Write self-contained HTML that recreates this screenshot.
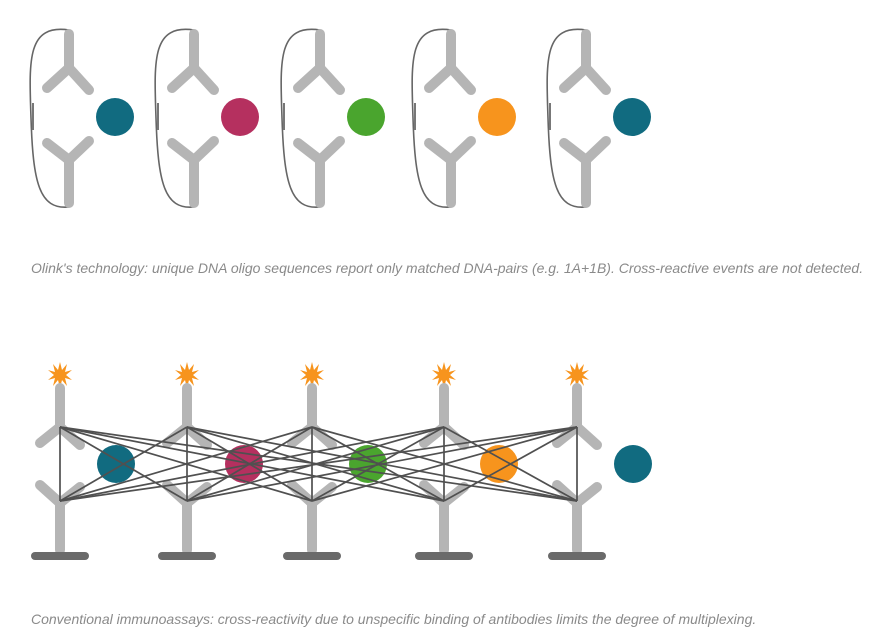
<!DOCTYPE html>
<html><head><meta charset="utf-8"><style>
html,body{margin:0;padding:0;background:#fff;}
.cap{position:absolute;font-family:"Liberation Sans",sans-serif;font-style:italic;font-size:14px;color:#8a8a8a;white-space:nowrap;}
</style></head><body>
<div style="position:relative;width:879px;height:637px;overflow:hidden">
<svg width="879" height="637" style="position:absolute;left:0;top:0">
<defs>
<g id="top">
<path d="M0,30 C-42,24 -40,60 -38,118 C-36,182 -30,210 0,207" fill="none" stroke="#666" stroke-width="1.6"/>
<line x1="-36" y1="103" x2="-36" y2="130" stroke="#777" stroke-width="2"/>
<g stroke="#b5b5b5" stroke-width="10" stroke-linecap="round" fill="none">
<line x1="0" y1="34" x2="0" y2="68"/><line x1="0" y1="68" x2="-22" y2="88"/><line x1="0" y1="68" x2="20" y2="90"/>
<line x1="-22" y1="143" x2="0" y2="160"/><line x1="20" y1="141" x2="0" y2="160"/><line x1="0" y1="160" x2="0" y2="203"/>
</g>
</g>
<g id="bot">
<polygon points="0,-13 2,-5 7,-11 5,-3 12,-5 6,0 12,5 5,3 7,11 2,5 0,13 -2,5 -7,11 -5,3 -12,5 -6,0 -12,-5 -5,-3 -7,-11 -2,-5" fill="#f7941d" transform="translate(0,375)"/>
<g stroke="#b5b5b5" stroke-width="10" stroke-linecap="round" fill="none">
<line x1="0" y1="388" x2="0" y2="427"/><line x1="0" y1="427" x2="-20" y2="443"/><line x1="0" y1="427" x2="20" y2="445"/>
<line x1="-20" y1="485" x2="0" y2="503"/><line x1="20" y1="487" x2="0" y2="503"/><line x1="0" y1="503" x2="0" y2="550"/>
</g>
<rect x="-29" y="552" width="58" height="8" rx="4" fill="#6a6a6a"/>
</g>
</defs>
<use href="#top" x="69"/><use href="#top" x="194"/><use href="#top" x="320"/><use href="#top" x="451"/><use href="#top" x="586"/>
<circle cx="115" cy="117" r="19" fill="#116b80"/>
<circle cx="240" cy="117" r="19" fill="#b5305f"/>
<circle cx="366" cy="117" r="19" fill="#4aa52e"/>
<circle cx="497" cy="117" r="19" fill="#f7941d"/>
<circle cx="632" cy="117" r="19" fill="#116b80"/>

<use href="#bot" x="60"/><use href="#bot" x="187"/><use href="#bot" x="312"/><use href="#bot" x="444"/><use href="#bot" x="577"/>
<circle cx="116" cy="464" r="19" fill="#116b80"/>
<circle cx="244" cy="464" r="19" fill="#b5305f"/>
<circle cx="368" cy="464" r="19" fill="#4aa52e"/>
<circle cx="499" cy="464" r="19" fill="#f7941d"/>
<circle cx="633" cy="464" r="19" fill="#116b80"/>
<g stroke="#505050" stroke-width="1.7">
<line x1="60" y1="427" x2="60" y2="501"/><line x1="187" y1="427" x2="187" y2="501"/><line x1="312" y1="427" x2="312" y2="501"/><line x1="444" y1="427" x2="444" y2="501"/><line x1="577" y1="427" x2="577" y2="501"/>
<line x1="60" y1="427" x2="187" y2="501"/><line x1="60" y1="501" x2="187" y2="427"/>
<line x1="60" y1="427" x2="312" y2="501"/><line x1="60" y1="501" x2="312" y2="427"/>
<line x1="60" y1="427" x2="444" y2="501"/><line x1="60" y1="501" x2="444" y2="427"/>
<line x1="60" y1="427" x2="577" y2="501"/><line x1="60" y1="501" x2="577" y2="427"/>
<line x1="187" y1="427" x2="312" y2="501"/><line x1="187" y1="501" x2="312" y2="427"/>
<line x1="187" y1="427" x2="444" y2="501"/><line x1="187" y1="501" x2="444" y2="427"/>
<line x1="187" y1="427" x2="577" y2="501"/><line x1="187" y1="501" x2="577" y2="427"/>
<line x1="312" y1="427" x2="444" y2="501"/><line x1="312" y1="501" x2="444" y2="427"/>
<line x1="312" y1="427" x2="577" y2="501"/><line x1="312" y1="501" x2="577" y2="427"/>
<line x1="444" y1="427" x2="577" y2="501"/><line x1="444" y1="501" x2="577" y2="427"/>
</g>
</svg>
<div class="cap" style="left:31px;top:260px">Olink's technology: unique DNA oligo sequences report only matched DNA-pairs (e.g. 1A+1B). Cross-reactive events are not detected.</div>
<div class="cap" style="left:31px;top:611px">Conventional immunoassays: cross-reactivity due to unspecific binding of antibodies limits the degree of multiplexing.</div>
</div>
</body></html>
